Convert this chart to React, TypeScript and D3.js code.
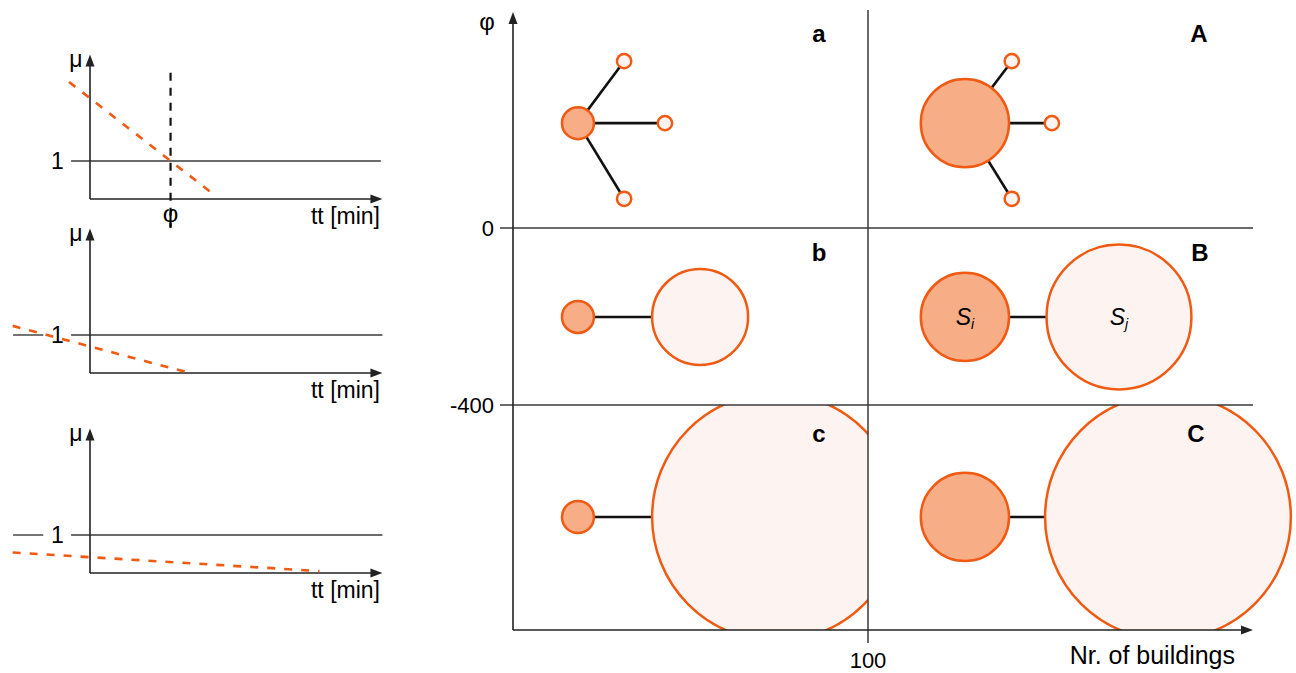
import React from "react";
import * as d3 from "d3";

// left: three mu(tt) sketches
const muAxisTop = 3.8;
const ttAxisEnd = 36.3;
const lineStartTT = [-2.6, -9.6, -9.6];
const lineStartMu = [3.08, 1.24, 0.54];
const lineEndTT = [15.6, 12.4, 28.5];
const lineEndMu = [0.08, 0, 0.05];
const phiTT = 10;
const oneLineSegments = [
  [[-2.35, 36.1]],
  [[-9.55, -5.8], [-2.35, 36.3]],
  [[-9.55, -5.8], [-2.35, 36.3]],
];

// right: phi vs number of buildings
const phiTicks = [0, -400];
const buildingTicks = [100];
const panelLabels = ["a", "A", "b", "B", "c", "C"];
const labelBuildings = [86.2, 193.2, 86.2, 193.5, 86.2, 192.4];
const labelPhi = [440, 440, -56, -56, -463, -463];
const originBuildings = [18.3, 127.3, 18.3, 127.3, 18.3, 127.3];
const originPhi = [237, 237, -201, -201, -653, -653];
const originSize = [10, 76, 10, 76, 10, 76];
const neighborPanel = [0, 0, 0, 1, 1, 1, 2, 3, 4, 5];
const neighborBuildings = [31.3, 42.8, 31.3, 140.5, 151.8, 140.5, 52.7, 170.7, 74.1, 184.5];
const neighborPhi = [377, 237, 66, 377, 237, 66, -201, -201, -653, -653];
const neighborSize = [2, 2, 2, 2, 2, 2, 90, 205, 600, 590];

const ORANGE = "#f05a12";
const FILL = "#f7ad85";
const LIGHT = "#fdf4f1";
const AXIS = "#222";
const GRID = "#3a3a3a";
const FONT = "'Liberation Sans', Arial, sans-serif";

const plotAxisY = [199, 373, 573];

function Arrow({ x, y, dir }: { x: number; y: number; dir: "up" | "right" }) {
  const p =
    dir === "up"
      ? `M${x},${y} L${x - 4.5},${y + 12} L${x + 4.5},${y + 12} Z`
      : `M${x},${y} L${x - 12},${y - 4.5} L${x - 12},${y + 4.5} Z`;
  return <path d={p} fill={AXIS} />;
}

function MuPlot({ k }: { k: number }) {
  const x = d3.scaleLinear().domain([0, 36]).range([90, 380]);
  const y = d3.scaleLinear().domain([0, 1]).range([plotAxisY[k], plotAxisY[k] - 38]);
  const line = d3.line<[number, number]>().x((d) => x(d[0])).y((d) => y(d[1]));
  return (
    <g>
      {oneLineSegments[k].map((s, i) => (
        <line key={i} x1={x(s[0])} x2={x(s[1])} y1={y(1)} y2={y(1)} stroke={GRID} strokeWidth={1.4} />
      ))}
      <text x={57.5} y={y(1)} dy="0.36em" textAnchor="middle" fontSize={23}>1</text>
      <line x1={x(0)} x2={x(0)} y1={y(0)} y2={y(muAxisTop) + 6} stroke={AXIS} strokeWidth={1.6} />
      <line x1={x(0)} x2={x(ttAxisEnd) - 6} y1={y(0)} y2={y(0)} stroke={AXIS} strokeWidth={1.6} />
      <Arrow x={x(0)} y={y(muAxisTop)} dir="up" />
      <Arrow x={x(ttAxisEnd)} y={y(0)} dir="right" />
      <text x={76} y={y(muAxisTop) + 12} textAnchor="middle" fontSize={23}>μ</text>
      <text x={380} y={y(0) + 25} textAnchor="end" fontSize={23}>tt [min]</text>
      {k === 0 && (
        <g>
          <line x1={x(phiTT)} x2={x(phiTT)} y1={y(3.32)} y2={y(-0.76)} stroke="#111" strokeWidth={2.2} strokeDasharray="8,7" />
          <text x={x(phiTT)} y={y(0) + 23} textAnchor="middle" fontSize={24}>φ</text>
        </g>
      )}
      <path
        d={line([[lineStartTT[k], lineStartMu[k]], [lineEndTT[k], lineEndMu[k]]]) || ""}
        stroke={ORANGE}
        strokeWidth={2.6}
        strokeDasharray="8,9"
        fill="none"
      />
    </g>
  );
}

export default function App() {
  const xB = d3.scaleLinear().domain([0, 100]).range([513, 868]);
  const yP = d3.scaleLinear().domain([0, -400]).range([228, 405]);
  const r = d3.scaleSqrt().domain([0, 10]).range([0, 16]);
  const axisBottom = 630;
  const axisTop = 12;
  const xEnd = 1253;
  const cols = [xB(0), xB(100), 1296];
  const rows = [0, yP(0), yP(-400), axisBottom];

  return (
    <svg width={1296} height={673} style={{ position: "absolute", left: 0, top: 0, background: "#fff" }} fontFamily={FONT}>
      <defs>
        {panelLabels.map((_, i) => {
          const c = i % 2, rw = Math.floor(i / 2);
          return (
            <clipPath id={`cell${i}`} key={i}>
              <rect x={cols[c]} y={rows[rw]} width={cols[c + 1] - cols[c]} height={rows[rw + 1] - rows[rw]} />
            </clipPath>
          );
        })}
      </defs>

      {[0, 1, 2].map((k) => (
        <MuPlot key={k} k={k} />
      ))}

      {panelLabels.map((lab, i) => {
        const ox = xB(originBuildings[i]);
        const oy = yP(originPhi[i]);
        const nb = neighborPanel.map((p, j) => (p === i ? j : -1)).filter((j) => j >= 0);
        return (
          <g key={lab} clipPath={`url(#cell${i})`}>
            {nb.map((j) => (
              <line key={"l" + j} x1={ox} y1={oy} x2={xB(neighborBuildings[j])} y2={yP(neighborPhi[j])} stroke="#111" strokeWidth={2.6} />
            ))}
            {nb.map((j) => (
              <circle key={"c" + j} cx={xB(neighborBuildings[j])} cy={yP(neighborPhi[j])} r={r(neighborSize[j])} fill={LIGHT} stroke={ORANGE} strokeWidth={2.5} />
            ))}
            <circle cx={ox} cy={oy} r={r(originSize[i])} fill={FILL} stroke={ORANGE} strokeWidth={2.5} />
            {lab === "B" && (
              <g fontSize={23} fontStyle="italic" textAnchor="middle">
                <text x={ox} y={oy} dy="0.36em">S<tspan fontSize={14} dy="4">i</tspan></text>
                <text x={xB(neighborBuildings[nb[0]])} y={oy} dy="0.36em">S<tspan fontSize={14} dy="4">j</tspan></text>
              </g>
            )}
          </g>
        );
      })}

      {phiTicks.map((t) => (
        <g key={t}>
          <line x1={500} x2={xEnd} y1={yP(t)} y2={yP(t)} stroke={GRID} strokeWidth={1.5} />
          <text x={494} y={yP(t)} dy="0.36em" textAnchor="end" fontSize={22}>{t}</text>
        </g>
      ))}
      {buildingTicks.map((t) => (
        <g key={t}>
          <line x1={xB(t)} x2={xB(t)} y1={10} y2={643} stroke={GRID} strokeWidth={1.5} />
          <text x={xB(t)} y={axisBottom + 30} dy="0.36em" textAnchor="middle" fontSize={22}>{t}</text>
        </g>
      ))}

      <line x1={xB(0)} x2={xB(0)} y1={axisBottom} y2={axisTop + 6} stroke={AXIS} strokeWidth={1.6} />
      <line x1={xB(0)} x2={xEnd - 6} y1={axisBottom} y2={axisBottom} stroke={AXIS} strokeWidth={1.6} />
      <Arrow x={xB(0)} y={axisTop} dir="up" />
      <Arrow x={xEnd} y={axisBottom} dir="right" />
      <text x={487} y={30} textAnchor="middle" fontSize={24}>φ</text>
      <text x={1235} y={664} textAnchor="end" fontSize={25}>Nr. of buildings</text>

      {panelLabels.map((lab, i) => (
        <text key={lab} x={xB(labelBuildings[i])} y={yP(labelPhi[i])} dy="0.36em" textAnchor="middle" fontSize={24} fontWeight="bold">
          {lab}
        </text>
      ))}
    </svg>
  );
}
